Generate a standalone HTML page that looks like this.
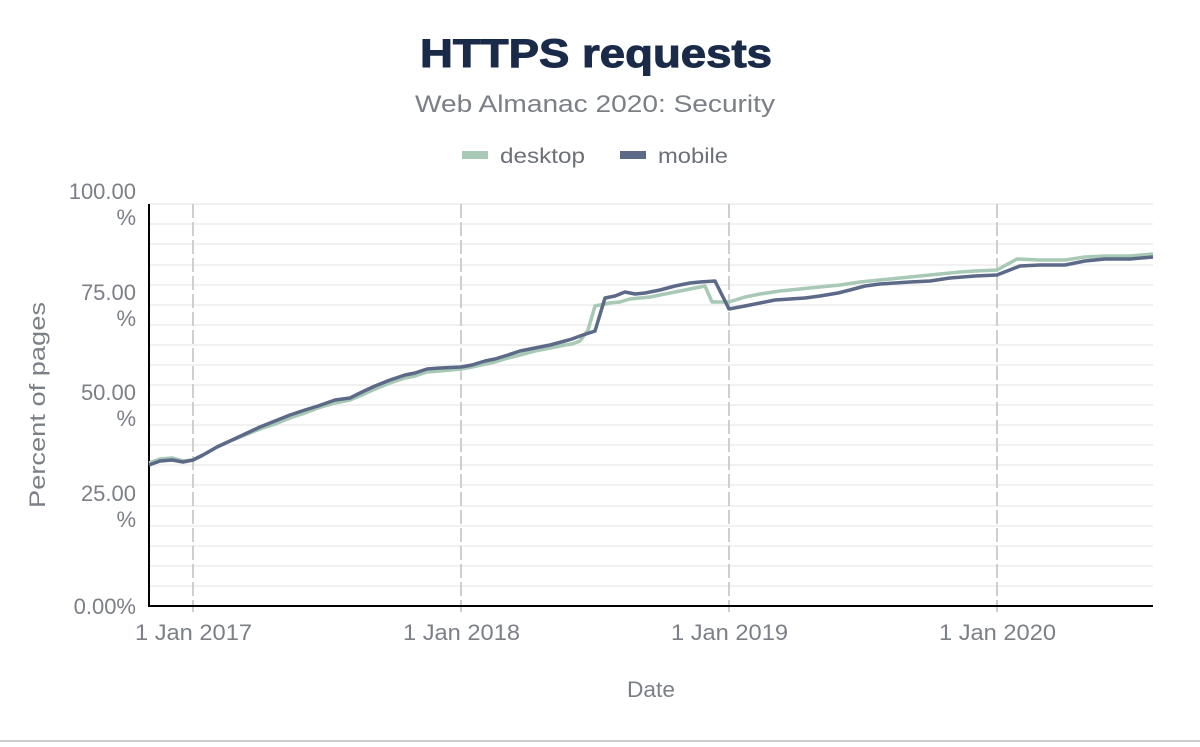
<!DOCTYPE html>
<html><head><meta charset="utf-8"><style>
body{margin:0;background:#fff;width:1200px;height:742px;overflow:hidden;font-family:"Liberation Sans",sans-serif}
</style></head><body>
<svg width="1200" height="742" xmlns="http://www.w3.org/2000/svg" font-family="Liberation Sans, sans-serif">
<text x="420" y="67" textLength="352" lengthAdjust="spacingAndGlyphs" font-size="40" font-weight="900" fill="#1a2b49" stroke="#1a2b49" stroke-width="1">HTTPS requests</text>
<text x="415" y="112" textLength="360" lengthAdjust="spacingAndGlyphs" font-size="24" fill="#7b7f86">Web Almanac 2020: Security</text>
<rect x="462" y="151" width="26" height="8" fill="#a7c9b6"/>
<text x="500" y="163" textLength="85" lengthAdjust="spacingAndGlyphs" font-size="21" fill="#6b7079">desktop</text>
<rect x="620" y="151" width="26" height="8" fill="#5c6a87"/>
<text x="658" y="163" textLength="70" lengthAdjust="spacingAndGlyphs" font-size="21" fill="#6b7079">mobile</text>
<g stroke="#f1f1f1" stroke-width="2">
<line x1="149" x2="1153" y1="204" y2="204"/><line x1="149" x2="1153" y1="224" y2="224"/><line x1="149" x2="1153" y1="244" y2="244"/><line x1="149" x2="1153" y1="265" y2="265"/><line x1="149" x2="1153" y1="285" y2="285"/><line x1="149" x2="1153" y1="305" y2="305"/><line x1="149" x2="1153" y1="325" y2="325"/><line x1="149" x2="1153" y1="345" y2="345"/><line x1="149" x2="1153" y1="365" y2="365"/><line x1="149" x2="1153" y1="385" y2="385"/><line x1="149" x2="1153" y1="405" y2="405"/><line x1="149" x2="1153" y1="425" y2="425"/><line x1="149" x2="1153" y1="445" y2="445"/><line x1="149" x2="1153" y1="465" y2="465"/><line x1="149" x2="1153" y1="485" y2="485"/><line x1="149" x2="1153" y1="506" y2="506"/><line x1="149" x2="1153" y1="526" y2="526"/><line x1="149" x2="1153" y1="546" y2="546"/><line x1="149" x2="1153" y1="566" y2="566"/><line x1="149" x2="1153" y1="586" y2="586"/>
</g>
<g stroke="#cfcfcf" stroke-width="2" stroke-dasharray="14,4">
<line x1="193" x2="193" y1="204" y2="612"/><line x1="461" x2="461" y1="204" y2="612"/><line x1="729" x2="729" y1="204" y2="612"/><line x1="997" x2="997" y1="204" y2="612"/>
</g>
<line x1="149" x2="149" y1="204" y2="607" stroke="#000" stroke-width="2"/>
<line x1="148" x2="1153" y1="606" y2="606" stroke="#000" stroke-width="2"/>
<g font-size="22" fill="#7b7f86" text-anchor="end">
<text x="136" y="199">100.00</text><text x="136" y="225">%</text>
<text x="136" y="300">75.00</text><text x="136" y="326">%</text>
<text x="136" y="400">50.00</text><text x="136" y="426">%</text>
<text x="136" y="501">25.00</text><text x="136" y="527">%</text>
<text x="136" y="614">0.00%</text>
</g>
<g font-size="22" fill="#7b7f86">
<text x="135" y="640" textLength="117" lengthAdjust="spacingAndGlyphs">1 Jan 2017</text>
<text x="403" y="640" textLength="117" lengthAdjust="spacingAndGlyphs">1 Jan 2018</text>
<text x="671" y="640" textLength="117" lengthAdjust="spacingAndGlyphs">1 Jan 2019</text>
<text x="939" y="640" textLength="117" lengthAdjust="spacingAndGlyphs">1 Jan 2020</text>
<text x="627" y="697" textLength="48" lengthAdjust="spacingAndGlyphs">Date</text>
<text transform="translate(45,508) rotate(-90)" textLength="206" lengthAdjust="spacingAndGlyphs">Percent of pages</text>
</g>
<polyline fill="none" stroke="#a7c9b6" stroke-width="3.5" stroke-linejoin="round" points="149,463 160,459 172,458 183,461 193,460 203,455 217,447 230,441 245,435 260,429 275,424 290,418 305,413 318,408 335,403 350,400 362,395 375,389 390,383 405,378 415,376 427,372 440,371 461,369 472,367 485,364 495,362 508,358 520,355 535,351 550,348 565,345 572,344 580,341 588,330 595,306 610,303 620,302 630,299 650,297 670,293 690,289 705,286 712,302 729,302 745,297 760,294 780,291 800,289 820,287 840,285 860,282 880,280 900,278 930,275 960,272 975,271 997,270 1017,259 1040,260 1065,260 1085,257 1105,256 1130,256 1153,254"/>
<polyline fill="none" stroke="#5c6a87" stroke-width="3.5" stroke-linejoin="round" points="149,465 160,461 172,460 183,462 193,460 203,455 217,447 230,441 245,434 260,427 275,421 290,415 305,410 318,406 335,400 350,398 362,392 375,386 390,380 405,375 415,373 427,369 440,368 461,367 472,365 485,361 495,359 508,355 520,351 535,348 550,345 565,341 572,339 580,336 595,331 605,298 615,296 625,292 635,294 645,293 660,290 675,286 690,283 700,282 715,281 729,309 745,306 760,303 775,300 790,299 805,298 820,296 838,293 850,290 865,286 880,284 895,283 910,282 930,281 950,278 975,276 997,275 1020,266 1040,265 1065,265 1085,261 1105,259 1130,259 1153,257"/>
<line x1="0" x2="1200" y1="741" y2="741" stroke="#999" stroke-width="1"/>
</svg>
</body></html>
